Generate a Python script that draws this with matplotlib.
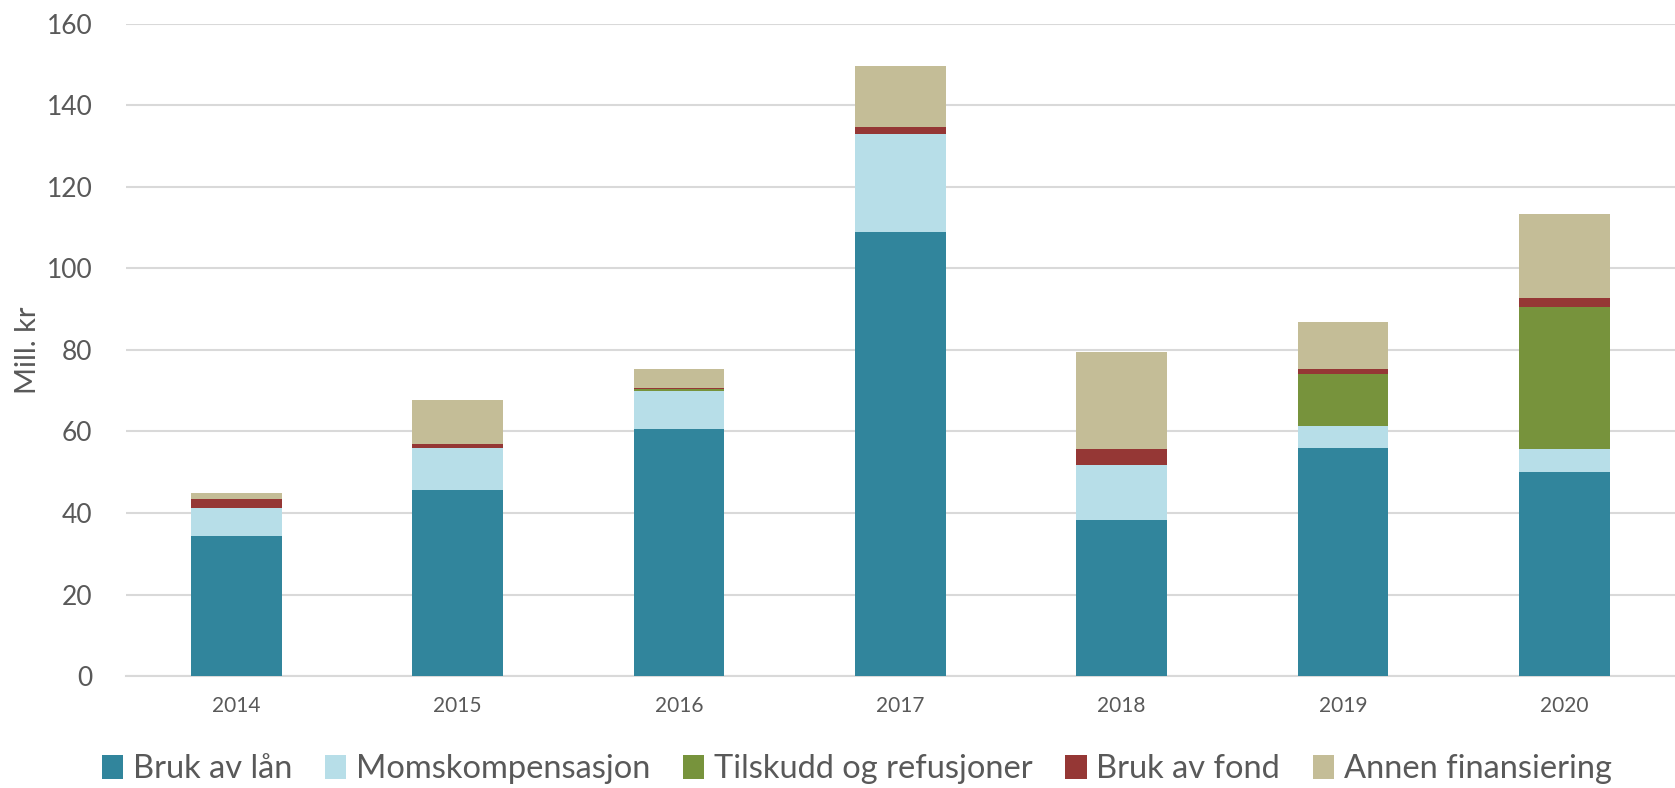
import matplotlib
matplotlib.use("Agg")
import matplotlib.pyplot as plt
import numpy as np

plt.rcParams['font.family'] = ['Lato', 'DejaVu Sans']

years = ["2014", "2015", "2016", "2017", "2018", "2019", "2020"]
bruk_av_lan = [34.4, 45.6, 60.6, 108.9, 38.3, 55.9, 50.0]
momskompensasjon = [6.8, 10.3, 9.4, 24.1, 13.4, 5.5, 5.8]
tilskudd = [0.0, 0.0, 0.4, 0.0, 0.0, 12.8, 34.6]
bruk_av_fond = [2.3, 1.0, 0.2, 1.6, 4.0, 1.0, 2.3]
annen = [1.4, 10.8, 4.6, 14.9, 23.7, 11.6, 20.5]

series = [
    ("Bruk av lån", bruk_av_lan, "#31859C"),
    ("Momskompensasjon", momskompensasjon, "#B7DEE8"),
    ("Tilskudd og refusjoner", tilskudd, "#77933C"),
    ("Bruk av fond", bruk_av_fond, "#953735"),
    ("Annen finansiering", annen, "#C4BD97"),
]

txt = "#595959"
fig = plt.figure(figsize=(16.75, 7.88), dpi=100)
ax = fig.add_axes([0.075, 0.142, 0.925, 0.828])

x = np.arange(len(years))
bottom = np.zeros(len(years))
for name, vals, col in series:
    ax.bar(x, vals, 0.41, bottom=bottom, color=col, label=name, zorder=3)
    bottom += np.array(vals)

ax.set_xlim(-0.5, len(years) - 0.5)
ax.set_ylim(0, 160)
ax.set_yticks(range(0, 161, 20))
ax.set_xticks(x)
ax.set_xticklabels(years)
ax.yaxis.grid(True, color="#D9D9D9", linewidth=1.5, zorder=0)
for s in ["top", "right", "left"]:
    ax.spines[s].set_visible(False)
ax.spines["bottom"].set_color("#D9D9D9")
ax.spines["bottom"].set_linewidth(1.5)
ax.tick_params(axis="both", length=0, colors=txt)
ax.tick_params(axis="y", labelsize=19, pad=24)
ax.tick_params(axis="x", labelsize=15, pad=14)
ax.set_ylabel("Mill. kr", fontsize=21, color=txt, labelpad=4)

ax.legend(loc="upper center", bbox_to_anchor=(0.472, -0.075), ncol=5, frameon=False,
          fontsize=23.5, labelcolor=txt, handlelength=0.65, handleheight=0.75,
          handletextpad=0.3, columnspacing=1.0)

fig.savefig("out.png", dpi=100)
